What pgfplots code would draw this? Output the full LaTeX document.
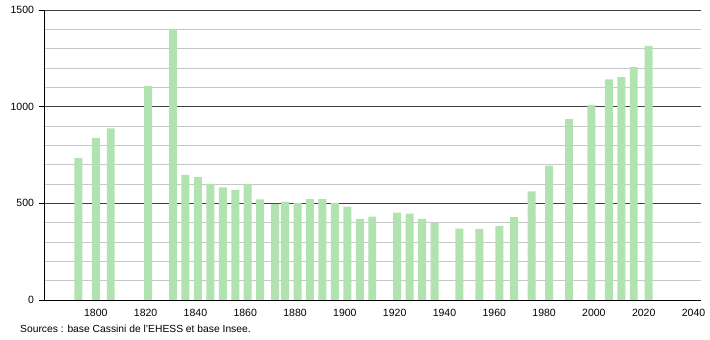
\documentclass[border=0pt]{standalone}
\usepackage{pgfplots}
\pgfplotsset{compat=1.18}
\usepackage{fontspec}
\setmainfont{Liberation Sans}
\definecolor{barg}{RGB}{176,227,176}
\begin{document}
\begin{tikzpicture}
\path[use as bounding box] (0,0) rectangle (710pt,340pt);
\begin{axis}[
  at={(44pt,40pt)}, anchor=south west,
  width=657pt, height=290pt, scale only axis,
  xmin=1779.2, xmax=2043, ymin=0, ymax=1500,
  axis x line*=bottom, axis y line*=left,
  axis line style={black, line width=0.8pt},
  ytick={0,500,1000,1500},
  minor ytick={100,200,300,400,600,700,800,900,1100,1200,1300,1400},
  ymajorgrids, yminorgrids,
  major grid style={black!75, line width=0.7pt},
  minor grid style={black!22, line width=0.6pt},
  xtick={1800,1820,...,2040},
  xtick style={draw=none},
  ytick style={black, line width=0.7pt},
  tick align=outside, major tick length=5pt, minor tick length=0pt,
  ticklabel style={font=\fontsize{10.5}{11}\selectfont},
  /pgf/number format/assume math mode=true,
  /pgf/number format/set thousands separator={},
  xticklabel style={yshift=-1pt},
  yticklabel style={xshift=-1.5pt},
]
\addplot[ybar, bar width=3.2, fill=barg, draw=none] coordinates {
(1793,734) (1800,838) (1806,888) (1821,1107) (1831,1402) (1836,647) (1841,636)
(1846,600) (1851,583) (1856,569) (1861,600) (1866,521) (1872,497) (1876,509)
(1881,503) (1886,522) (1891,522) (1896,503) (1901,483) (1906,419) (1911,431)
(1921,452) (1926,447) (1931,419) (1936,398) (1946,369) (1954,367) (1962,383)
(1968,429) (1975,562) (1982,695) (1990,936) (1999,1009) (2006,1141) (2011,1153)
(2016,1205) (2022,1314)
};
\end{axis}
\node[anchor=west, inner sep=0pt, font=\fontsize{10.3}{11}\selectfont] at (20pt,11pt) {Sources : base Cassini de l'EHESS et base Insee.};
\end{tikzpicture}
\end{document}
